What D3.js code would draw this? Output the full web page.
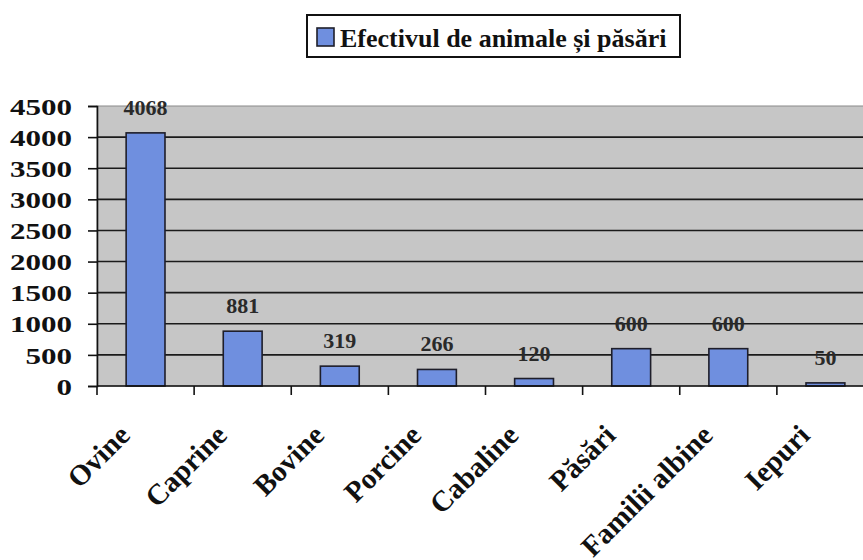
<!DOCTYPE html>
<html>
<head>
<meta charset="utf-8">
<script src="https://cdn.jsdelivr.net/npm/d3@7"></script>
<style>
  body { margin: 0; background: #fff; }
  svg { display: block; }
</style>
</head>
<body>
<svg id="chart"></svg>
<script>
// data
const categories = ['Ovine', 'Caprine', 'Bovine', 'Porcine', 'Cabaline', 'Păsări', 'Familii albine', 'Iepuri'];
const values = [4068, 881, 319, 266, 120, 600, 600, 50];
const yTicks = [0, 500, 1000, 1500, 2000, 2500, 3000, 3500, 4000, 4500];
const seriesName = 'Efectivul de animale și păsări';

const width = 863, height = 560;
const plot = { left: 97, right: 874, top: 106, bottom: 386 };
const font = '"Liberation Serif", "Times New Roman", serif';
const barColor = '#6f8fdf';

const svg = d3.select('#chart')
    .attr('width', width)
    .attr('height', height);

const xscale = d3.scaleBand()
    .domain(categories)
    .range([plot.left, plot.right])
    .paddingInner(0.6)
    .paddingOuter(0.3);

const yscale = d3.scaleLinear()
    .domain([0, 4500])
    .range([plot.bottom, plot.top]);

// plot background
svg.append('rect')
    .attr('x', plot.left)
    .attr('y', plot.top)
    .attr('width', plot.right - plot.left)
    .attr('height', plot.bottom - plot.top)
    .attr('fill', '#c6c6c6')
    .attr('stroke', '#8a8a8a')
    .attr('stroke-width', 1);

// gridlines
svg.append('g')
    .selectAll('line')
    .data(yTicks.filter(d => d > 0 && d < 4500))
    .join('line')
    .attr('x1', plot.left)
    .attr('x2', plot.right)
    .attr('y1', d => yscale(d))
    .attr('y2', d => yscale(d))
    .attr('stroke', '#1a1a1a')
    .attr('stroke-width', 1.6);

// y axis
const yaxis = d3.axisLeft(yscale)
    .tickValues(yTicks)
    .tickSize(9)
    .tickFormat(d3.format('d'));

const yg = svg.append('g')
    .attr('transform', `translate(${plot.left},0)`)
    .call(yaxis);
yg.attr('font-family', font);
yg.select('.domain').attr('stroke', '#111').attr('stroke-width', 1.6);
yg.selectAll('.tick line').attr('stroke', '#111').attr('stroke-width', 1.6);
yg.selectAll('.tick text')
    .attr('x', -25)
    .attr('dy', '0.34em')
    .attr('font-family', font)
    .attr('font-weight', 'bold')
    .attr('font-size', 24)
    .attr('fill', '#111')
    .attr('textLength', function() { return this.textContent.length * 15.5; })
    .attr('lengthAdjust', 'spacingAndGlyphs');

// bars
svg.append('g')
    .selectAll('rect')
    .data(values)
    .join('rect')
    .attr('x', (d, i) => xscale(categories[i]))
    .attr('y', d => yscale(d))
    .attr('width', xscale.bandwidth())
    .attr('height', d => plot.bottom - yscale(d))
    .attr('fill', barColor)
    .attr('stroke', '#1e1e2a')
    .attr('stroke-width', 1.6);

// x axis line and ticks between categories
svg.append('line')
    .attr('x1', plot.left)
    .attr('x2', plot.right)
    .attr('y1', plot.bottom)
    .attr('y2', plot.bottom)
    .attr('stroke', '#111')
    .attr('stroke-width', 1.6);

svg.append('g')
    .selectAll('line')
    .data(d3.range(categories.length + 1))
    .join('line')
    .attr('x1', i => plot.left + i * xscale.step())
    .attr('x2', i => plot.left + i * xscale.step())
    .attr('y1', plot.bottom)
    .attr('y2', plot.bottom + 9)
    .attr('stroke', '#111')
    .attr('stroke-width', 1.6);

// value labels
svg.append('g')
    .selectAll('text')
    .data(values)
    .join('text')
    .attr('x', (d, i) => xscale(categories[i]) + xscale.bandwidth() / 2)
    .attr('y', d => yscale(d) - 18)
    .attr('text-anchor', 'middle')
    .attr('font-family', font)
    .attr('font-weight', 'bold')
    .attr('font-size', 22)
    .attr('fill', '#2a2a2a')
    .text(d => d);

// category labels, rotated
svg.append('g')
    .selectAll('text')
    .data(categories)
    .join('text')
    .attr('transform', d => `translate(${xscale(d) + xscale.bandwidth() / 2 - 14},437) rotate(-45)`)
    .attr('text-anchor', 'end')
    .attr('font-family', font)
    .attr('font-weight', 'bold')
    .attr('font-size', 29)
    .attr('fill', '#111')
    .text(d => d);

// legend
const legend = svg.append('g');
legend.append('rect')
    .attr('x', 307)
    .attr('y', 15)
    .attr('width', 373)
    .attr('height', 42)
    .attr('fill', '#fff')
    .attr('stroke', '#111')
    .attr('stroke-width', 2);
legend.append('rect')
    .attr('x', 317)
    .attr('y', 28)
    .attr('width', 17)
    .attr('height', 18)
    .attr('fill', barColor)
    .attr('stroke', '#1e1e2a')
    .attr('stroke-width', 1.6);
legend.append('text')
    .attr('x', 340)
    .attr('y', 47)
    .attr('font-family', font)
    .attr('font-weight', 'bold')
    .attr('font-size', 26)
    .attr('fill', '#111')
    .text(seriesName);
</script>
</body>
</html>
